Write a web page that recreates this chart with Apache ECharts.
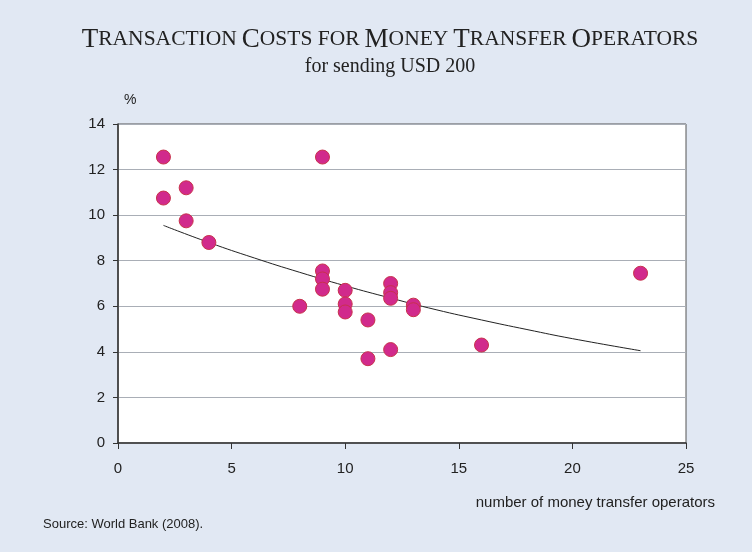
<!DOCTYPE html>
<html>
<head>
<meta charset="utf-8">
<script src="https://cdn.jsdelivr.net/npm/echarts@6/dist/echarts.min.js"></script>
<style>
  html, body { margin: 0; padding: 0; background: #e1e8f3; }
  #chart { width: 752px; height: 552px; }
</style>
</head>
<body>
<div id="chart"></div>
<script>
// operators per corridor vs cost (%)
var operators = [2, 2, 3, 3, 4, 9, 9, 9, 9, 8, 10, 10, 10, 11, 11, 12, 12, 12, 12, 13, 13, 16, 23];
var costs = [12.55, 10.75, 11.2, 9.75, 8.8, 12.55, 7.55, 7.2, 6.75, 6.0, 6.7, 6.1, 5.75, 5.4, 3.7, 7.0, 6.6, 6.35, 4.1, 6.05, 5.85, 4.3, 7.45];
// trend line
var trendX = [2, 4, 6, 8, 10, 12, 14, 16, 18, 20, 23];
var trendY = [9.55, 8.8, 8.12, 7.49, 6.9, 6.36, 5.85, 5.4, 4.98, 4.58, 4.05];
var yTicks = [0, 2, 4, 6, 8, 10, 12, 14];
var xTicks = [0, 5, 10, 15, 20, 25];

var points = operators.map(function (x, i) { return [x, costs[i]]; });
var trend = trendX.map(function (x, i) { return [x, trendY[i]]; });

var chart = echarts.init(document.getElementById('chart'));
var big = { fontFamily: 'Liberation Serif', fontSize: 27, fontWeight: 'normal', color: '#222' };
var small = { fontFamily: 'Liberation Serif', fontSize: 21.5, fontWeight: 'normal', color: '#222' };

chart.setOption({
  backgroundColor: '#e1e8f3',
  title: [{
    text: '{b|T}{s|RANSACTION} {b|C}{s|OSTS FOR} {b|M}{s|ONEY} {b|T}{s|RANSFER} {b|O}{s|PERATORS}',
    left: 385, top: 21, textAlign: 'center',
    textStyle: { fontWeight: 'normal', rich: { b: big, s: small } }
  }, {
    text: 'for sending USD 200',
    left: 385, top: 52, textAlign: 'center',
    textStyle: { fontFamily: 'Liberation Serif', fontSize: 20, fontWeight: 'normal', color: '#222' }
  }],
  grid: {
    left: 118, right: 66, top: 124, bottom: 109,
    show: true, backgroundColor: '#ffffff', borderColor: '#555', borderWidth: 1
  },
  xAxis: {
    type: 'value', min: xTicks[0], max: xTicks[xTicks.length - 1], interval: 5,
    axisLine: { lineStyle: { color: '#333', width: 1.5 } },
    axisTick: { show: true, length: 6, lineStyle: { color: '#333' } },
    axisLabel: { color: '#222', fontSize: 15, fontFamily: 'Liberation Sans', margin: 18 },
    splitLine: { show: false }
  },
  yAxis: {
    type: 'value', min: yTicks[0], max: yTicks[yTicks.length - 1], interval: 2,
    axisLine: { show: true, lineStyle: { color: '#333', width: 1.5 } },
    axisTick: { show: true, length: 5, lineStyle: { color: '#333' } },
    axisLabel: { color: '#222', fontSize: 15, fontFamily: 'Liberation Sans', margin: 13 },
    splitLine: { show: true, lineStyle: { color: '#a9aeb6', width: 1 } }
  },
  graphic: [
    { type: 'text', left: 124, top: 93,
      style: { text: '%', fontSize: 14, fontFamily: 'Liberation Sans', fill: '#222' } },
    { type: 'text', right: 37, top: 495,
      style: { text: 'number of money transfer operators', fontSize: 15, fontFamily: 'Liberation Sans', fill: '#222' } },
    { type: 'text', left: 43, top: 518,
      style: { text: 'Source: World Bank (2008).', fontSize: 13, fontFamily: 'Liberation Sans', fill: '#222' } }
  ],
  series: [{
    type: 'line', data: trend, smooth: true, symbol: 'none', silent: true,
    lineStyle: { color: '#222', width: 1 }, z: 3
  }, {
    type: 'scatter', data: points, symbolSize: 14,
    itemStyle: { color: '#d12a8c', borderColor: '#c8324c', borderWidth: 1, opacity: 1 }, z: 4
  }]
});
</script>
</body>
</html>
